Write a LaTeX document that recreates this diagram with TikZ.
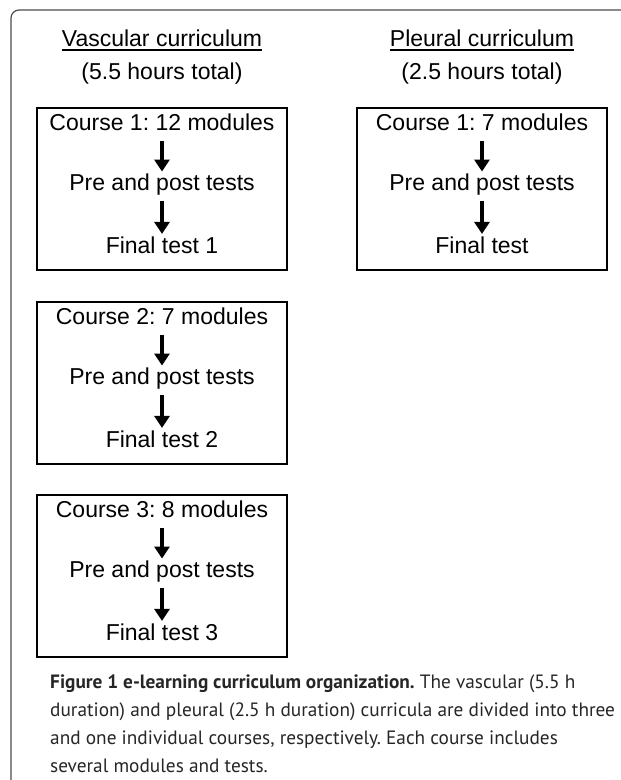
\documentclass[tikz,border=0pt]{standalone}
\usepackage{fontspec}
\setmainfont{Liberation Sans}
\newfontfamily\capfont{PT Sans}
\usetikzlibrary{positioning,arrows.meta}
\frenchspacing
\tikzset{
  >={Triangle[width=15pt,length=12pt]},
  frame/.style={draw=black!70,line width=1.2pt,rounded corners=8pt},
  course/.style={draw,line width=1.8pt,minimum width=250pt,minimum height=162pt},
  item/.style={inner sep=0pt,text height=17pt,text depth=5pt,font=\fontsize{23}{28}\selectfont},
  head/.style={inner sep=0pt,font=\fontsize{23}{28}\selectfont,anchor=base},
  flow/.style={->,line width=4pt,shorten <=5pt,shorten >=2pt},
  legend/.style={inner sep=0pt,anchor=base west,align=left,text=black!85,
    font=\capfont\fontsize{19.3}{28}\selectfont}
}
\begin{document}
\begin{tikzpicture}[x=1pt,y=-1pt]
    \useasboundingbox (0,0) rectangle (621,780);
    \coordinate (fb) at (11,780);
    \coordinate (fl) at (11,10);
    \coordinate (fr) at (621,10);
    \draw[frame] (fb) -- (fl) -- (fr);

    \node[head] (vt) at (162,46) {Vascular curriculum};
    \node[head] (vh) at (162,79) {(5.5 hours total)};
    \node[head] (pt) at (482,46) {Pleural curriculum};
    \node[head] (ph) at (482,79) {(2.5 hours total)};
    \draw[line width=1.6pt] ([yshift=-4pt]vt.base west) -- ([yshift=-4pt]vt.base east);
    \draw[line width=1.6pt] ([yshift=-4pt]pt.base west) -- ([yshift=-4pt]pt.base east);

    \node[course] (c1) at (162,189) {};
    \node[course] (c2) at (162,383) {};
    \node[course] (c3) at (162,576) {};
    \node[course] (p1) at (482,189) {};

    \node[item,below=6pt of c1.north] (c1a) {Course 1: 12 modules};
    \node[item,below=38pt of c1a] (c1b) {Pre and post tests};
    \node[item,below=40pt of c1b] (c1c) {Final test 1};
    \node[item,below=6pt of c2.north] (c2a) {Course 2: 7 modules};
    \node[item,below=38pt of c2a] (c2b) {Pre and post tests};
    \node[item,below=40pt of c2b] (c2c) {Final test 2};
    \node[item,below=6pt of c3.north] (c3a) {Course 3: 8 modules};
    \node[item,below=38pt of c3a] (c3b) {Pre and post tests};
    \node[item,below=40pt of c3b] (c3c) {Final test 3};
    \node[item,below=6pt of p1.north] (p1a) {Course 1: 7 modules};
    \node[item,below=38pt of p1a] (p1b) {Pre and post tests};
    \node[item,below=40pt of p1b] (p1c) {Final test};

    \draw[flow] (c1a) -- (c1b);
    \draw[flow] (c1b) -- (c1c);
    \draw[flow] (c2a) -- (c2b);
    \draw[flow] (c2b) -- (c2c);
    \draw[flow] (c3a) -- (c3b);
    \draw[flow] (c3b) -- (c3c);
    \draw[flow] (p1a) -- (p1b);
    \draw[flow] (p1b) -- (p1c);

    \node[legend] (cap) at (50,772) {\textbf{Figure 1 e-learning curriculum organization.} The vascular (5.5 h\\
      duration) and pleural (2.5 h duration) curricula are divided into three\\
      and one individual courses, respectively. Each course includes\\
      several modules and tests.};
\end{tikzpicture}
\end{document}
